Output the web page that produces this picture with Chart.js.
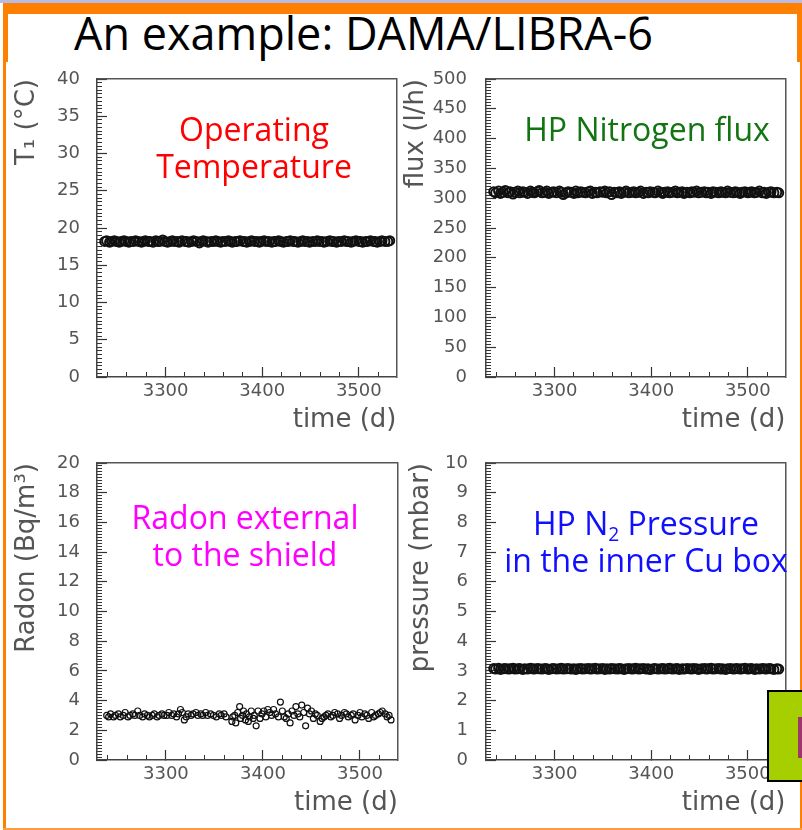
<!DOCTYPE html>
<html>
<head>
<meta charset="utf-8">
<script src="https://cdn.jsdelivr.net/npm/chart.js@4.4.1/dist/chart.umd.min.js"></script>
<style>
  body { margin: 0; width: 802px; height: 830px; position: relative; overflow: hidden; background: #fff; }
  .abs { position: absolute; }
  canvas { position: absolute; }
  .note { position: absolute; text-align: center; white-space: nowrap; transform: translate(-50%, -50%);
          font-family: "Open Sans", sans-serif; font-size: 32px; line-height: 37px; }
  .note sub { font-size: 0.6em; vertical-align: -0.3em; line-height: 0; }
</style>
</head>
<body>
<div class="abs" style="left:0;top:0;width:802px;height:3px;background:#b8bce4"></div>
<div class="abs" style="left:3px;top:3px;width:799px;height:827px;background:#ff7f00"></div>
<div class="abs" style="left:3px;top:828px;width:799px;height:2px;background:#ff9a40"></div>
<div class="abs" style="left:8px;top:14px;width:789px;height:48px;background:#fff"></div>
<div class="abs" style="left:6px;top:62px;width:794px;height:766px;background:#fff"></div>

<div class="abs" style="left:74px;top:3px;font-family:'Open Sans',sans-serif;font-size:45px;line-height:60px;color:#000;white-space:nowrap">An example: DAMA/LIBRA-6</div>

<canvas id="tempChart"></canvas>
<canvas id="fluxChart"></canvas>
<canvas id="radonChart"></canvas>
<canvas id="pressureChart"></canvas>

<div class="note" style="left:254px;top:147px;color:#ff0000">Operating<br>Temperature</div>
<div class="note" style="left:647px;top:128px;color:#127512">HP Nitrogen flux</div>
<div class="note" style="left:245px;top:535px;color:#ff00ff">Radon external<br>to the shield</div>
<div class="note" style="left:646px;top:541px;color:#1010ff">HP N<sub>2</sub> Pressure<br>in the inner Cu box</div>

<div class="abs" style="left:767px;top:690px;width:40px;height:88px;background:#a6cf00;border:2px solid #000"></div>
<div class="abs" style="left:798px;top:717px;width:6px;height:41px;background:#9e366c"></div>

<script>
// time axis (days)
const dayMin = 3229;
const dayMax = 3539;
const dayTicks = [3300, 3400, 3500];

// slow control readings, common time base
const days = [
  3237, 3239, 3242, 3244, 3247, 3249, 3252, 3254, 3257, 3259,
  3262, 3264, 3267, 3269, 3272, 3275, 3277, 3279, 3282, 3284,
  3287, 3290, 3292, 3294, 3297, 3299, 3302, 3305, 3307, 3309,
  3312, 3314, 3317, 3320, 3322, 3324, 3327, 3329, 3332, 3335,
  3337, 3339, 3342, 3344, 3347, 3350, 3352, 3354, 3357, 3359,
  3362, 3365, 3367, 3369, 3372, 3374, 3377, 3380, 3382, 3384,
  3387, 3389, 3392, 3395, 3397, 3399, 3402, 3404, 3407, 3410,
  3412, 3414, 3417, 3419, 3422, 3425, 3427, 3429, 3432, 3434,
  3437, 3440, 3442, 3444, 3447, 3449, 3452, 3455, 3457, 3459,
  3462, 3464, 3467, 3470, 3472, 3474, 3477, 3479, 3482, 3485,
  3487, 3489, 3492, 3494, 3497, 3500, 3502, 3504, 3507, 3509,
  3512, 3515, 3517, 3519, 3522, 3524, 3527, 3530, 3532
];

const temperature = [
  18.2, 18.3, 18.1, 18.2, 18.3, 18.2, 18.1, 18.2, 18.3, 18.2,
  18.1, 18.2, 18.2, 18.3, 18.2, 18.1, 18.2, 18.3, 18.2, 18.2,
  18.1, 18.3, 18.2, 18.2, 18.4, 18.2, 18.1, 18.2, 18.3, 18.2,
  18.2, 18.1, 18.3, 18.2, 18.2, 18.1, 18.2, 18.3, 18.2, 18.0,
  18.2, 18.3, 18.2, 18.1, 18.2, 18.2, 18.3, 18.2, 18.1, 18.2,
  18.2, 18.3, 18.2, 18.1, 18.2, 18.2, 18.3, 18.2, 18.2, 18.1,
  18.2, 18.3, 18.2, 18.2, 18.1, 18.2, 18.3, 18.2, 18.2, 18.1,
  18.2, 18.2, 18.3, 18.2, 18.1, 18.2, 18.2, 18.3, 18.2, 18.2,
  18.1, 18.2, 18.3, 18.2, 18.2, 18.1, 18.2, 18.2, 18.3, 18.2,
  18.2, 18.1, 18.2, 18.3, 18.2, 18.2, 18.1, 18.2, 18.2, 18.3,
  18.2, 18.2, 18.1, 18.2, 18.3, 18.2, 18.2, 18.1, 18.2, 18.2,
  18.3, 18.2, 18.2, 18.1, 18.2, 18.3, 18.2, 18.2, 18.3
];

const flux = [
  311, 309, 312, 308, 310, 313, 309, 311, 307, 310,
  312, 309, 311, 310, 308, 312, 310, 309, 311, 313,
  309, 310, 312, 308, 310, 311, 309, 312, 310, 306,
  309, 311, 310, 308, 312, 309, 311, 310, 309, 311,
  312, 308, 310, 309, 311, 310, 312, 309, 311, 306,
  310, 309, 311, 308, 310, 312, 309, 310, 311, 309,
  310, 312, 308, 310, 309, 311, 310, 309, 312, 310,
  308, 310, 311, 309, 310, 312, 309, 310, 311, 308,
  310, 309, 311, 310, 312, 309, 310, 311, 309, 310,
  308, 311, 310, 309, 311, 310, 309, 312, 310, 309,
  311, 310, 308, 310, 311, 309, 310, 311, 309, 310,
  312, 309, 310, 308, 310, 311, 309, 310, 309
];

const pressure = [
  3.08, 3.06, 3.09, 3.05, 3.07, 3.08, 3.06, 3.07, 3.09, 3.06,
  3.07, 3.08, 3.05, 3.07, 3.06, 3.09, 3.07, 3.06, 3.08, 3.07,
  3.06, 3.08, 3.07, 3.05, 3.07, 3.08, 3.06, 3.07, 3.09, 3.06,
  3.07, 3.08, 3.06, 3.07, 3.05, 3.07, 3.08, 3.06, 3.07, 3.08,
  3.06, 3.07, 3.09, 3.06, 3.07, 3.08, 3.05, 3.07, 3.06, 3.08,
  3.07, 3.06, 3.08, 3.07, 3.05, 3.07, 3.08, 3.06, 3.07, 3.09,
  3.06, 3.07, 3.08, 3.06, 3.07, 3.05, 3.07, 3.08, 3.06, 3.07,
  3.08, 3.06, 3.07, 3.09, 3.06, 3.07, 3.08, 3.05, 3.07, 3.06,
  3.08, 3.07, 3.06, 3.08, 3.07, 3.05, 3.07, 3.08, 3.06, 3.07,
  3.09, 3.06, 3.07, 3.08, 3.06, 3.07, 3.05, 3.07, 3.08, 3.06,
  3.07, 3.08, 3.06, 3.07, 3.09, 3.06, 3.07, 3.08, 3.05, 3.07,
  3.06, 3.08, 3.07, 3.06, 3.08, 3.07, 3.05, 3.07, 3.06
];

// radon has its own sampling
const radonDays = [
  3239, 3241, 3243, 3246, 3248, 3251, 3253, 3256, 3258, 3261,
  3263, 3266, 3268, 3271, 3273, 3276, 3278, 3281, 3283, 3286,
  3288, 3291, 3293, 3296, 3298, 3301, 3303, 3306, 3308, 3311,
  3313, 3315, 3317, 3319, 3321, 3323, 3326, 3328, 3331, 3333,
  3336, 3338, 3341, 3343, 3346, 3349, 3352, 3355, 3357, 3360,
  3362, 3368, 3369, 3371, 3372, 3374, 3376, 3377, 3379, 3380,
  3382, 3383, 3385, 3386, 3388, 3390, 3391, 3393, 3395, 3397,
  3399, 3401, 3403, 3405, 3407, 3409, 3411, 3413, 3416, 3418,
  3420, 3422, 3424, 3426, 3428, 3430, 3432, 3434, 3436, 3438,
  3440, 3442, 3444, 3446, 3448, 3450, 3452, 3454, 3456, 3459,
  3461, 3463, 3465, 3467, 3470, 3472, 3474, 3477, 3479, 3481,
  3484, 3486, 3488, 3491, 3493, 3495, 3498, 3500, 3502, 3505,
  3507, 3509, 3512, 3514, 3516, 3519, 3521, 3523, 3526, 3528,
  3530, 3532
];

const radon = [
  3.0, 2.9, 3.1, 2.9, 3.0, 3.1, 2.9, 3.0, 3.2, 2.9,
  3.0, 3.1, 3.0, 3.3, 3.0, 2.9, 3.1, 3.0, 2.9, 3.0,
  3.1, 2.9, 3.0, 3.1, 3.0, 3.0, 3.2, 3.0, 3.1, 2.9,
  3.1, 3.4, 3.2, 2.7, 2.9, 3.1, 3.0, 3.1, 3.2, 3.0,
  3.1, 3.0, 3.2, 3.0, 3.1, 3.0, 2.9, 3.1, 3.0, 3.1,
  2.9, 2.6, 2.9, 3.0, 2.5, 3.2, 3.6, 2.8, 3.0, 3.3,
  2.7, 3.1, 2.6, 2.9, 3.3, 2.8, 3.0, 2.3, 3.3, 2.8,
  3.1, 3.3, 2.9, 3.4, 3.2, 3.0, 3.4, 3.1, 2.9, 3.9,
  3.3, 2.9, 2.8, 3.1, 2.5, 3.3, 3.0, 3.6, 3.1, 2.9,
  3.7, 3.2, 2.3, 3.5, 3.1, 3.3, 2.8, 3.1, 3.0, 2.6,
  2.8, 2.9, 3.0, 3.1, 2.9, 3.0, 3.2, 3.1, 2.8, 3.0,
  3.2, 3.1, 2.9, 3.0, 3.1, 2.7, 3.0, 3.2, 2.9, 3.1,
  3.0, 2.8, 3.2, 2.9, 3.0, 3.1, 3.2, 3.3, 3.1, 2.9,
  3.0, 2.7
];

// y axis tick labels
const tempTicks = [0, 5, 10, 15, 20, 25, 30, 35, 40];
const fluxTicks = [0, 50, 100, 150, 200, 250, 300, 350, 400, 450, 500];
const radonTicks = [0, 2, 4, 6, 8, 10, 12, 14, 16, 18, 20];
const pressureTicks = [0, 1, 2, 3, 4, 5, 6, 7, 8, 9, 10];

const labelColor = "#555";
const tickFont = { family: "DejaVu Sans", size: 18 };
const titleFont = { family: "DejaVu Sans", size: 26 };
const topPad = 48;

function minorTicks(min, max, step) {
  const out = [];
  for (let i = 0; min + i * step <= max + step / 100; i++) {
    out.push({ value: +(min + i * step).toFixed(4) });
  }
  return out;
}

function makePanel(id, p) {
  // Get the canvas element and place it so the plot frame lands where it should
  const canvas = document.getElementById(id);
  const half = titleFont.size * 0.6;
  const left = Math.round(p.titleX - half);
  const top = p.top - topPad;
  const bottom = Math.round(p.timeY + half);
  canvas.width = p.right + 4 - left;
  canvas.height = bottom - top;
  canvas.style.left = left + "px";
  canvas.style.top = top + "px";

  const yMin = p.ticks[0];
  const yMax = p.ticks[p.ticks.length - 1];
  const yStep = (p.ticks[1] - p.ticks[0]) / 10;

  const points = p.days.map((d, i) => ({ x: d, y: p.values[i] }));

  return new Chart(canvas, {
    type: "scatter",
    data: {
      datasets: [
        {
          data: points,
          pointRadius: p.radius,
          pointBorderWidth: p.lineWidth,
          borderColor: "#111",
          backgroundColor: "rgba(0,0,0,0)",
        },
      ],
    },
    options: {
      responsive: false,
      animation: false,
      layout: { padding: { top: topPad, right: 4, left: 0, bottom: 0 } },
      plugins: { legend: { display: false }, tooltip: { enabled: false } },
      scales: {
        x: {
          type: "linear",
          position: "bottom",
          weight: 1,
          min: dayMin,
          max: dayMax,
          afterBuildTicks: (s) => { s.ticks = dayTicks.map((v) => ({ value: v })); },
          afterFit: (s) => { s.height = bottom - p.bottom; },
          ticks: { padding: 14, color: labelColor, font: tickFont, callback: (v) => String(v) },
          grid: { drawOnChartArea: false, tickLength: -10, tickColor: "#333", tickWidth: 1.2 },
          border: { color: "#444", width: 1.5 },
          title: { display: true, text: "time (d)", align: "end", color: labelColor, font: titleFont, padding: 0 },
        },
        xMinor: {
          type: "linear",
          position: "bottom",
          weight: 0,
          min: dayMin,
          max: dayMax,
          afterBuildTicks: (s) => { s.ticks = minorTicks(3240, 3520, 20); },
          afterFit: (s) => { s.height = 0; },
          ticks: { display: false },
          grid: { drawOnChartArea: false, tickLength: -5, tickColor: "#333", tickWidth: 1 },
          border: { display: false },
        },
        xTop: {
          type: "linear",
          position: "top",
          min: dayMin,
          max: dayMax,
          afterFit: (s) => { s.height = 0; },
          ticks: { display: false },
          grid: { drawOnChartArea: false, drawTicks: false },
          border: { color: "#555", width: 1.5 },
        },
        y: {
          type: "linear",
          position: "left",
          weight: 1,
          min: yMin,
          max: yMax,
          afterBuildTicks: (s) => { s.ticks = p.ticks.map((v) => ({ value: v })); },
          afterFit: (s) => { s.width = p.left - left; },
          ticks: { padding: p.left + 10 - p.labelRight, color: labelColor, font: tickFont, callback: (v) => String(v) },
          grid: { drawOnChartArea: false, tickLength: -10, tickColor: "#333", tickWidth: 1.2 },
          border: { color: "#444", width: 1.5 },
          title: { display: true, text: p.title, align: "end", color: labelColor, font: titleFont, padding: 0 },
        },
        yMinor: {
          type: "linear",
          position: "left",
          weight: 0,
          min: yMin,
          max: yMax,
          afterBuildTicks: (s) => { s.ticks = minorTicks(yMin, yMax, yStep); },
          afterFit: (s) => { s.width = 0; },
          ticks: { display: false },
          grid: { drawOnChartArea: false, tickLength: -5, tickColor: "#333", tickWidth: 1 },
          border: { display: false },
        },
        yRight: {
          type: "linear",
          position: "right",
          min: yMin,
          max: yMax,
          afterFit: (s) => { s.width = 0; },
          ticks: { display: false },
          grid: { drawOnChartArea: false, drawTicks: false },
          border: { color: "#555", width: 1.5 },
        },
      },
    },
  });
}

makePanel("tempChart", {
  days: days, values: temperature, ticks: tempTicks, title: "T\u2081 (\u00B0C)",
  titleX: 28, left: 97, right: 399, top: 79, bottom: 377, labelRight: 80, timeY: 420,
  radius: 4.5, lineWidth: 2,
});

makePanel("fluxChart", {
  days: days, values: flux, ticks: fluxTicks, title: "flux (l/h)",
  titleX: 417, left: 486, right: 788, top: 79, bottom: 377, labelRight: 467, timeY: 420,
  radius: 4.5, lineWidth: 2,
});

makePanel("radonChart", {
  days: radonDays, values: radon, ticks: radonTicks, title: "Radon (Bq/m\u00B3)",
  titleX: 28, left: 97, right: 399, top: 463, bottom: 760, labelRight: 80, timeY: 803,
  radius: 3, lineWidth: 1.2,
});

makePanel("pressureChart", {
  days: days, values: pressure, ticks: pressureTicks, title: "pressure (mbar)",
  titleX: 422, left: 486, right: 788, top: 463, bottom: 760, labelRight: 468, timeY: 803,
  radius: 4.5, lineWidth: 2,
});
</script>
</body>
</html>
